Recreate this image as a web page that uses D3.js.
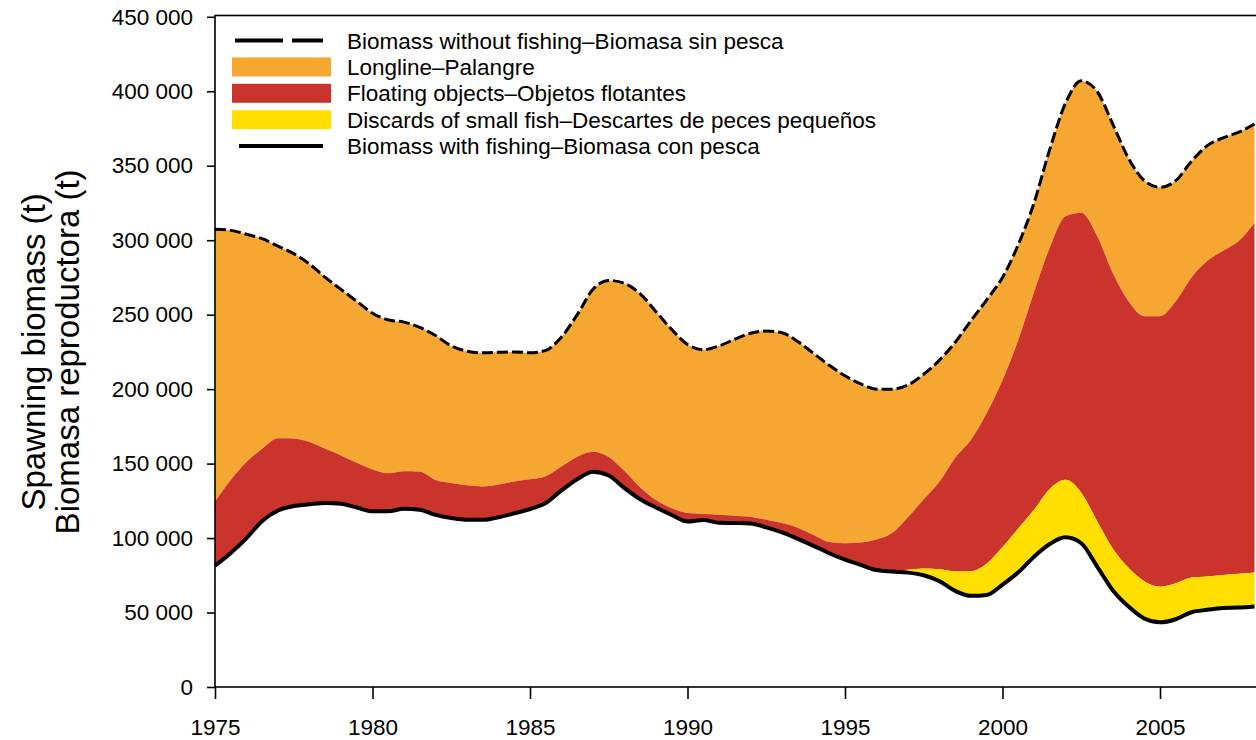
<!DOCTYPE html>
<html>
<head>
<meta charset="utf-8">
<script src="https://cdn.jsdelivr.net/npm/d3@7"></script>
<style>
  html, body { margin: 0; padding: 0; background: #fff; }
  svg { display: block; font-family: "Liberation Sans", Arial, Helvetica, sans-serif; }
</style>
</head>
<body>
<svg id="chart" width="1256" height="740"></svg>
<script>
// Half-yearly time steps
const years = [
  1975, 1975.5, 1976, 1976.5, 1977, 1977.5, 1978, 1978.5, 1979, 1979.5,
  1980, 1980.5, 1981, 1981.5, 1982, 1982.5, 1983, 1983.5, 1984, 1984.5,
  1985, 1985.5, 1986, 1986.5, 1987, 1987.5, 1988, 1988.5, 1989, 1989.5,
  1990, 1990.5, 1991, 1991.5, 1992, 1992.5, 1993, 1993.5, 1994, 1994.5,
  1995, 1995.5, 1996, 1996.5, 1997, 1997.5, 1998, 1998.5, 1999, 1999.5,
  2000, 2000.5, 2001, 2001.5, 2002, 2002.5, 2003, 2003.5, 2004, 2004.5,
  2005, 2005.5, 2006, 2006.5, 2007, 2007.5, 2008
];

// Spawning biomass (t) without any fishing (top, dashed)
const withoutFishing = [
  307400, 306600, 304000, 301000, 296000, 291000, 284000, 275000, 267000, 259000,
  251000, 246500, 245000, 241500, 236000, 229000, 225500, 224400, 224700, 225000,
  224400, 226000, 235000, 250000, 267000, 273000, 271000, 264000, 252000, 240000,
  230000, 226500, 229000, 233500, 237500, 239000, 237800, 232000, 224000, 216000,
  209000, 203500, 200000, 200000, 202800, 210000, 219500, 231500, 246000, 260000,
  275000, 297000, 325000, 361000, 392000, 407000, 400000, 378000, 355000, 340000,
  335500, 340000, 353000, 363500, 368700, 372500, 378000
];

// Upper edge of the floating-object band (longline band sits above it)
const floatingTop = [
  124600, 139000, 151000, 160000, 167000, 166800, 164500, 160000, 155500, 150500,
  146000, 143500, 144800, 144500, 139000, 137000, 135500, 134700, 136000, 138000,
  139500, 141500, 148000, 154600, 158000, 154500, 145000, 134000, 125500, 120000,
  116800, 116200, 115700, 115000, 114300, 112300, 110100, 107000, 102000, 97300,
  96500, 97000, 99000, 103500, 114000, 126000, 138000, 154000, 166000, 184000,
  206000, 233000, 265000, 295000, 316000, 318500, 303000, 278000, 259000, 249000,
  249000, 259000, 275000, 286000, 293000, 299500, 311600
];

// Upper edge of the discards band
const discardsTop = [
  81400, 90000, 100000, 111500, 118500, 121500, 122700, 123600, 123000, 120500,
  118000, 118000, 119700, 119000, 115600, 113500, 112300, 112300, 114000, 116600,
  119500, 123500, 132000, 139500, 144500, 142000, 133500, 126000, 120500, 115500,
  111100, 112200, 110300, 110100, 109800, 107200, 103800, 99500, 94800, 89800,
  85500, 82000, 78500, 78000, 78800, 79500, 79000, 77600, 77800, 83000,
  94000, 106500, 119000, 133000, 139100, 130500, 111500, 93000, 80000, 71000,
  67300, 69700, 73500, 74200, 75200, 76000, 76900
];

// Spawning biomass (t) with all fisheries (bottom, solid)
const withFishing = [
  81400, 90000, 100000, 111500, 118500, 121500, 122700, 123600, 123000, 120500,
  118000, 118000, 119700, 119000, 115600, 113500, 112300, 112300, 114000, 116600,
  119500, 123500, 132000, 139500, 144500, 142000, 133500, 126000, 120500, 115500,
  111100, 112200, 110300, 110100, 109800, 107200, 103800, 99500, 94800, 89800,
  85500, 82000, 78500, 77500, 76800, 75000, 71000, 64500, 61200, 61800,
  68700, 77000, 87500, 96000, 100500, 96500, 81000, 65000, 54000, 46000,
  43400, 45500, 50200, 51800, 53100, 53300, 54100
];

const yTicks = [0, 50000, 100000, 150000, 200000, 250000, 300000, 350000, 400000, 450000];
const xTicks = [1975, 1980, 1985, 1990, 1995, 2000, 2005];

const legendLabels = [
  "Biomass without fishing\u2013Biomasa sin pesca",
  "Longline\u2013Palangre",
  "Floating objects\u2013Objetos flotantes",
  "Discards of small fish\u2013Descartes de peces peque\u00f1os",
  "Biomass with fishing\u2013Biomasa con pesca"
];

const colors = { longline: "#F5A732", floating: "#CB342D", discards: "#FFDE00" };

const svg = d3.select("#chart");
const plotLeft = 215, plotBottom = 687, plotTop = 16.8;

const x = d3.scaleLinear().domain([1975, 2008]).range([plotLeft, 1254.5]);
const y = d3.scaleLinear().domain([0, 450000]).range([plotBottom, plotTop]);

const rows = years.map((yr, i) => ({
  yr,
  wf: withFishing[i],
  dt: discardsTop[i],
  ft: floatingTop[i],
  wo: withoutFishing[i]
}));

const curve = d3.curveMonotoneX;
const band = (lo, hi) => d3.area().curve(curve)
  .x(d => x(d.yr)).y0(d => y(d[lo])).y1(d => y(d[hi]));
const line = key => d3.line().curve(curve).x(d => x(d.yr)).y(d => y(d[key]));

const plot = svg.append("g");
plot.append("path").datum(rows).attr("d", band("ft", "wo")).attr("fill", colors.longline);
plot.append("path").datum(rows).attr("d", band("dt", "ft")).attr("fill", colors.floating);
plot.append("path").datum(rows).attr("d", band("wf", "dt")).attr("fill", colors.discards);

plot.append("path").datum(rows).attr("d", line("wo"))
  .attr("fill", "none").attr("stroke", "#000").attr("stroke-width", 3)
  .attr("stroke-dasharray", "11,4");
plot.append("path").datum(rows).attr("d", line("wf"))
  .attr("fill", "none").attr("stroke", "#000").attr("stroke-width", 4)
  .attr("stroke-linejoin", "round");

// Plot frame (right side runs past the canvas)
svg.append("rect")
  .attr("x", plotLeft).attr("y", 15.5)
  .attr("width", 1300 - plotLeft).attr("height", plotBottom - 15.5)
  .attr("fill", "none").attr("stroke", "#000").attr("stroke-width", 1.6);

const fmt = v => d3.format(",")(v).replace(/,/g, " ");

const yAxis = svg.append("g").attr("transform", `translate(${plotLeft},0)`)
  .call(d3.axisLeft(y).tickValues(yTicks).tickFormat(fmt).tickSize(8).tickPadding(14).tickSizeOuter(0));
const xAxis = svg.append("g").attr("transform", `translate(0,${plotBottom})`)
  .call(d3.axisBottom(x).tickValues(xTicks).tickFormat(d3.format("d")).tickSize(12).tickPadding(20).tickSizeOuter(0));

[yAxis, xAxis].forEach(g => {
  g.select(".domain").remove();
  g.selectAll(".tick line").attr("stroke", "#000").attr("stroke-width", 1.6);
  g.selectAll(".tick text").attr("fill", "#000").style("font-size", "22.5px")
    .style("font-family", "\"Liberation Sans\", Arial, sans-serif");
});

// Axis title, two lines
const yTitle = svg.append("text")
  .attr("transform", `translate(0,${(plotTop + plotBottom) / 2}) rotate(-90)`)
  .attr("text-anchor", "middle").style("font-size", "33px").attr("fill", "#000");
yTitle.append("tspan").attr("x", 0).attr("y", 45).text("Spawning biomass (t)");
yTitle.append("tspan").attr("x", 0).attr("y", 79).text("Biomasa reproductora (t)");

// Legend
const legend = svg.append("g");
const rowY = i => 40.5 + i * 26.4;
legend.append("line").attr("x1", 235).attr("x2", 323).attr("y1", rowY(0)).attr("y2", rowY(0))
  .attr("stroke", "#000").attr("stroke-width", 4).attr("stroke-dasharray", "48,9");
[colors.longline, colors.floating, colors.discards].forEach((c, k) => {
  legend.append("rect").attr("x", 232).attr("y", rowY(k + 1) - 9.5)
    .attr("width", 99).attr("height", 19).attr("fill", c);
});
legend.append("line").attr("x1", 239).attr("x2", 323).attr("y1", rowY(4)).attr("y2", rowY(4))
  .attr("stroke", "#000").attr("stroke-width", 4);
legend.selectAll("text.lbl").data(legendLabels).join("text")
  .attr("class", "lbl")
  .attr("x", 347).attr("y", (d, i) => rowY(i)).attr("dy", "0.36em")
  .style("font-size", "22.5px").attr("fill", "#000").text(d => d);
</script>
</body>
</html>
